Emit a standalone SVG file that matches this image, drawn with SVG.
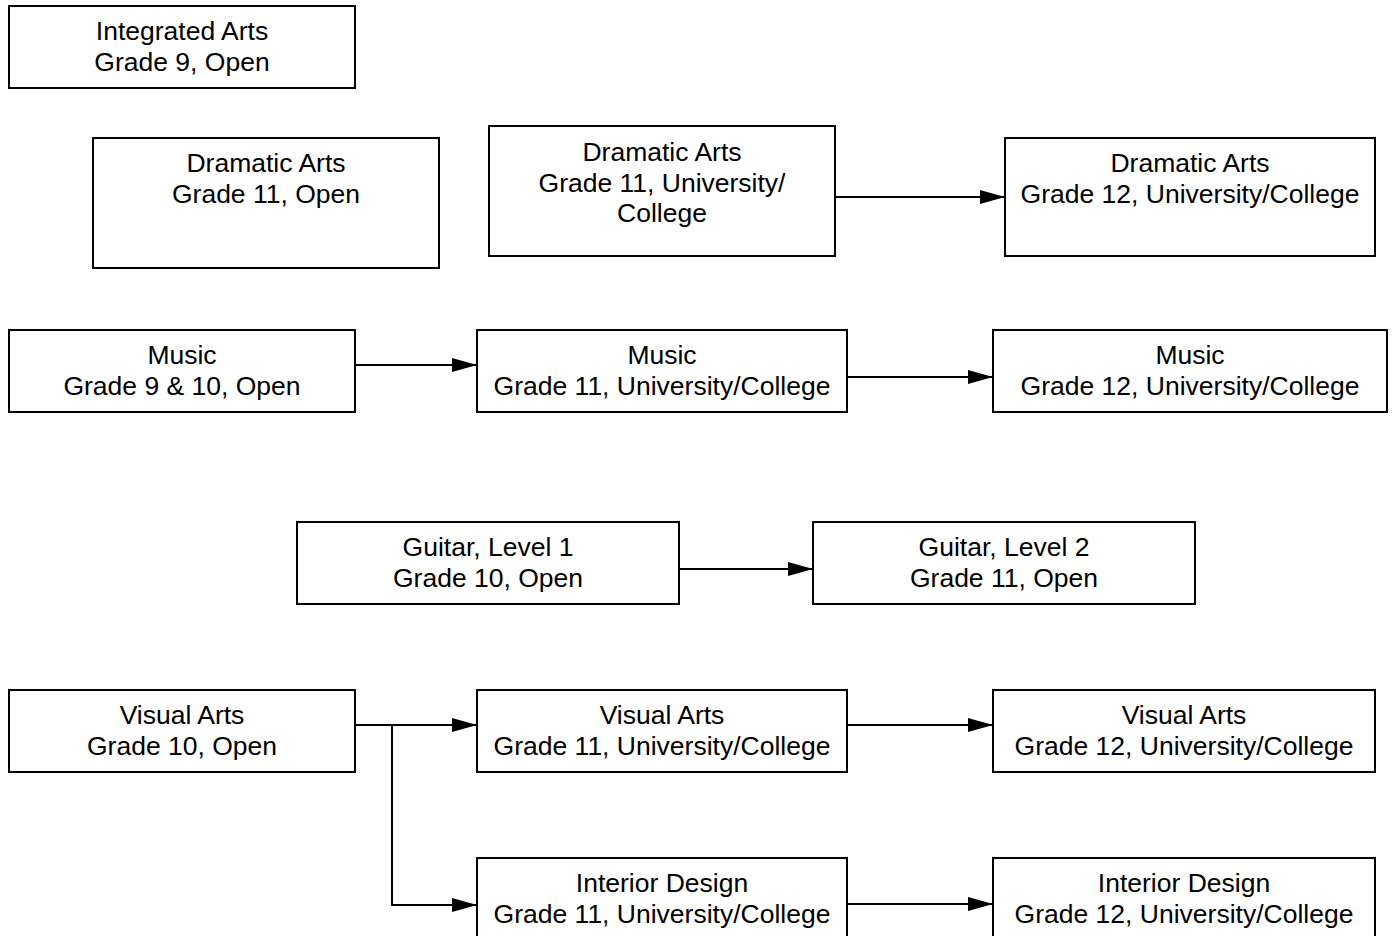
<svg xmlns="http://www.w3.org/2000/svg" width="1393" height="936" viewBox="0 0 1393 936">
<style>
rect.n{fill:#fff;stroke:#000;stroke-width:2}
text{font-family:"Liberation Sans",Arial,sans-serif;font-size:26.5px;fill:#000;text-anchor:middle}
.c path{fill:none;stroke:#000;stroke-width:2}
</style>
<defs>
<marker id="ah" markerUnits="userSpaceOnUse" markerWidth="26" markerHeight="16" refX="25" refY="7" orient="auto" viewBox="0 0 26 14">
<path d="M0,0 L25,7 L0,14 Z" fill="#000"/>
</marker>
</defs>
<rect width="1393" height="936" fill="#fff"/>
<g id="integrated9"><rect class="n" x="9" y="6" width="346" height="82"/><text x="182" y="40">Integrated Arts</text><text x="182" y="71">Grade 9, Open</text></g>
<g id="drama11open"><rect class="n" x="93" y="138" width="346" height="130"/><text x="266" y="172">Dramatic Arts</text><text x="266" y="203">Grade 11, Open</text></g>
<g id="drama11uc"><rect class="n" x="489" y="126" width="346" height="130"/><text x="662" y="161">Dramatic Arts</text><text x="662" y="192">Grade 11, University/</text><text x="662" y="222">College</text></g>
<g id="drama12"><rect class="n" x="1005" y="138" width="370" height="118"/><text x="1190" y="172">Dramatic Arts</text><text x="1190" y="203">Grade 12, University/College</text></g>
<g id="music910"><rect class="n" x="9" y="330" width="346" height="82"/><text x="182" y="364">Music</text><text x="182" y="395">Grade 9 &amp; 10, Open</text></g>
<g id="music11"><rect class="n" x="477" y="330" width="370" height="82"/><text x="662" y="364">Music</text><text x="662" y="395">Grade 11, University/College</text></g>
<g id="music12"><rect class="n" x="993" y="330" width="394" height="82"/><text x="1190" y="364">Music</text><text x="1190" y="395">Grade 12, University/College</text></g>
<g id="guitar1"><rect class="n" x="297" y="522" width="382" height="82"/><text x="488" y="556">Guitar, Level 1</text><text x="488" y="587">Grade 10, Open</text></g>
<g id="guitar2"><rect class="n" x="813" y="522" width="382" height="82"/><text x="1004" y="556">Guitar, Level 2</text><text x="1004" y="587">Grade 11, Open</text></g>
<g id="visual10"><rect class="n" x="9" y="690" width="346" height="82"/><text x="182" y="724">Visual Arts</text><text x="182" y="755">Grade 10, Open</text></g>
<g id="visual11"><rect class="n" x="477" y="690" width="370" height="82"/><text x="662" y="724">Visual Arts</text><text x="662" y="755">Grade 11, University/College</text></g>
<g id="visual12"><rect class="n" x="993" y="690" width="382" height="82"/><text x="1184" y="724">Visual Arts</text><text x="1184" y="755">Grade 12, University/College</text></g>
<g id="interior11"><rect class="n" x="477" y="858" width="370" height="84"/><text x="662" y="892">Interior Design</text><text x="662" y="923">Grade 11, University/College</text></g>
<g id="interior12"><rect class="n" x="993" y="858" width="382" height="84"/><text x="1184" y="892">Interior Design</text><text x="1184" y="923">Grade 12, University/College</text></g>
<g class="c" id="connectors">
<path d="M835,197 H1005" marker-end="url(#ah)"/>
<path d="M355,365 H477" marker-end="url(#ah)"/>
<path d="M847,377 H993" marker-end="url(#ah)"/>
<path d="M679,569 H813" marker-end="url(#ah)"/>
<path d="M355,725 H477" marker-end="url(#ah)"/>
<path d="M392,725 V905 H477" marker-end="url(#ah)"/>
<path d="M847,725 H993" marker-end="url(#ah)"/>
<path d="M847,904 H993" marker-end="url(#ah)"/>
</g>
</svg>
